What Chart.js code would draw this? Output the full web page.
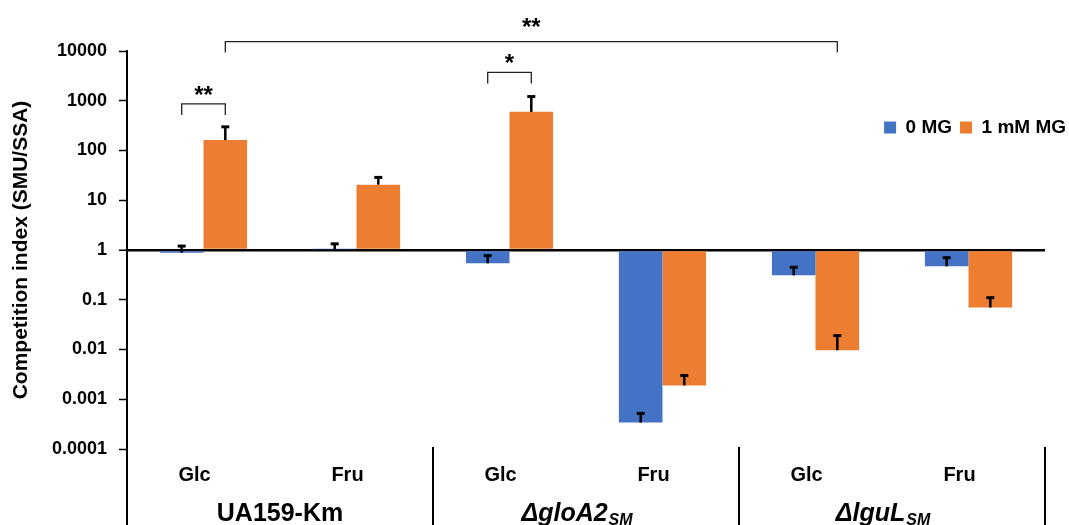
<!DOCTYPE html>
<html>
<head>
<meta charset="utf-8">
<script src="https://cdn.jsdelivr.net/npm/chart.js@4.4.1/dist/chart.umd.min.js"></script>
<style>
  html, body { margin: 0; padding: 0; background: #fff; }
  canvas { display: block; }
</style>
</head>
<body>
<canvas id="c" width="1069" height="525"></canvas>
<script>
// ---- data ----
const categories = ['Glc', 'Fru', 'Glc', 'Fru', 'Glc', 'Fru'];
const groupNames = ['UA159-Km', '\u0394gloA2', '\u0394lguL'];
const groupSubs = ['', 'SM', 'SM'];
const seriesNames = ['0 MG', '1 mM MG'];
const mg0 = [0.88, 1.03, 0.54, 0.00034, 0.31, 0.47];
const mg1 = [162, 20.6, 598, 0.0019, 0.0097, 0.070];
const mg0Upper = [1.2, 1.33, 0.77, 0.00052, 0.45, 0.70];
const mg1Upper = [299, 28.8, 1213, 0.0030, 0.019, 0.110];
const yTickLabels = ['0.0001', '0.001', '0.01', '0.1', '1', '10', '100', '1000', '10000'];
// significance brackets: [category, dataset] from -> to, bar level, text level, text
const bracketFrom = [[0, 0], [2, 0], [0, 1]];
const bracketTo = [[0, 1], [2, 1], [4, 1]];
const bracketLevel = [865, 3705, 15500];
const bracketTextLevel = [886, 3880, 21400];
const bracketText = ['**', '*', '**'];

const FONT = '"Liberation Sans", Arial, Helvetica, sans-serif';
const BLUE = '#4472C4';
const ORANGE = '#ED7D31';

const legendShift = {
  id: 'legendShift',
  afterLayout(chart) {
    const lg = chart.legend;
    if (!lg) return;
    const dy = 110 - lg.top;
    const dx = 1074 - lg.right;
    lg.top += dy; lg.bottom += dy;
    lg.left += dx; lg.right += dx;
  }
};

const annot = {
  id: 'annot',
  afterDatasetsDraw(chart) {
    const ctx = chart.ctx;
    const y = chart.scales.y;
    [mg0Upper, mg1Upper].forEach((ups, di) => {
      const meta = chart.getDatasetMeta(di);
      meta.data.forEach((bar, i) => {
        const yTop = y.getPixelForValue(ups[i]);
        ctx.save();
        ctx.strokeStyle = '#000';
        ctx.lineWidth = 2.5;
        ctx.beginPath();
        ctx.moveTo(bar.x, bar.y);
        ctx.lineTo(bar.x, yTop);
        ctx.stroke();
        ctx.lineWidth = 3;
        ctx.beginPath();
        ctx.moveTo(bar.x - 4, yTop);
        ctx.lineTo(bar.x + 4, yTop);
        ctx.stroke();
        ctx.restore();
      });
    });
  },
  afterDraw(chart) {
    const ctx = chart.ctx;
    const x = chart.scales.x;
    const y = chart.scales.y;
    const area = chart.chartArea;
    // brackets
    ctx.save();
    ctx.strokeStyle = '#222';
    ctx.lineWidth = 1.3;
    ctx.fillStyle = '#000';
    ctx.font = 'bold 24px ' + FONT;
    ctx.textAlign = 'center';
    ctx.textBaseline = 'alphabetic';
    bracketFrom.forEach((f, k) => {
      const t = bracketTo[k];
      const x1 = chart.getDatasetMeta(f[1]).data[f[0]].x;
      const x2 = chart.getDatasetMeta(t[1]).data[t[0]].x;
      const yl = y.getPixelForValue(bracketLevel[k]);
      ctx.beginPath();
      ctx.moveTo(x1, yl + 11);
      ctx.lineTo(x1, yl);
      ctx.lineTo(x2, yl);
      ctx.lineTo(x2, yl + 11);
      ctx.stroke();
      ctx.fillText(bracketText[k], (x1 + x2) / 2, y.getPixelForValue(bracketTextLevel[k]));
    });
    ctx.restore();
    // group separators
    const p0 = x.getPixelForValue(0);
    const cw = x.getPixelForValue(1) - p0;
    const start = p0 - cw / 2;
    ctx.save();
    ctx.strokeStyle = '#000';
    ctx.lineWidth = 2;
    for (let k = 0; k <= groupNames.length; k++) {
      const bx = start + k * 2 * cw;
      ctx.beginPath();
      ctx.moveTo(bx, area.bottom - 2);
      ctx.lineTo(bx, chart.height);
      ctx.stroke();
    }
    ctx.restore();
    // group labels
    ctx.save();
    ctx.fillStyle = '#000';
    ctx.textBaseline = 'alphabetic';
    ctx.textAlign = 'left';
    groupNames.forEach((name, k) => {
      const sub = groupSubs[k];
      const mainFont = (sub ? 'italic ' : '') + 'bold 25px ' + FONT;
      const subFont = 'italic bold 16px ' + FONT;
      ctx.font = mainFont;
      const wMain = ctx.measureText(name).width;
      ctx.font = subFont;
      const wSub = sub ? ctx.measureText(sub).width + 1 : 0;
      const mid = start + (k * 2 + 1) * cw;
      const x0 = mid - (wMain + wSub) / 2 + (sub ? -9 : 0);
      ctx.font = mainFont;
      ctx.fillText(name, x0, 521);
      if (sub) {
        ctx.font = subFont;
        ctx.fillText(sub, x0 + wMain + 1, 525);
      }
    });
    ctx.restore();
  }
};

const tickValues = yTickLabels.map(Number);

new Chart(document.getElementById('c'), {
  type: 'bar',
  data: {
    labels: categories,
    datasets: [
      { label: seriesNames[0], data: mg0, backgroundColor: BLUE, base: 1, borderWidth: 0 },
      { label: seriesNames[1], data: mg1, backgroundColor: ORANGE, base: 1, borderWidth: 0 }
    ]
  },
  options: {
    responsive: false,
    animation: false,
    events: [],
    categoryPercentage: 0.57,
    barPercentage: 1,
    layout: { padding: { top: 14, right: 24, left: 0, bottom: 0 } },
    plugins: {
      legend: {
        display: true,
        position: 'top',
        align: 'end',
        labels: {
          boxWidth: 12,
          boxHeight: 12,
          padding: 8,
          color: '#000',
          font: { family: FONT, size: 19, weight: 'bold' }
        }
      },
      tooltip: { enabled: false },
      title: { display: false }
    },
    scales: {
      x: {
        type: 'category',
        offset: true,
        grid: { display: false },
        border: { display: false },
        ticks: {
          color: '#000',
          font: { family: FONT, size: 20, weight: 'bold' },
          padding: 6,
          labelOffset: -9,
          maxRotation: 0,
          autoSkip: false
        },
        afterFit(scale) { scale.height = 76; }
      },
      y: {
        type: 'logarithmic',
        min: tickValues[0],
        max: tickValues[tickValues.length - 1],
        z: 1,
        afterBuildTicks(scale) {
          scale.ticks = tickValues.map(v => ({ value: v }));
        },
        afterFit(scale) { scale.width = 127; },
        ticks: {
          color: '#000',
          font: { family: FONT, size: 18, weight: 'bold' },
          padding: 12,
          autoSkip: false,
          callback(value) {
            const i = tickValues.indexOf(value);
            return i >= 0 ? yTickLabels[i] : '';
          }
        },
        grid: {
          drawOnChartArea: true,
          color: (c) => (c.tick && c.tick.value === 1 ? '#000' : 'rgba(0,0,0,0)'),
          lineWidth: (c) => (c.tick && c.tick.value === 1 ? 2.5 : 1),
          tickColor: '#000',
          tickLength: 8,
          tickWidth: 1.5
        },
        border: { display: true, color: '#000', width: 2 },
        title: {
          display: true,
          text: 'Competition index (SMU/SSA)',
          color: '#000',
          font: { family: FONT, size: 21, weight: 'bold' },
          padding: { top: 9, bottom: 0 }
        }
      }
    }
  },
  plugins: [legendShift, annot]
});
</script>
</body>
</html>
